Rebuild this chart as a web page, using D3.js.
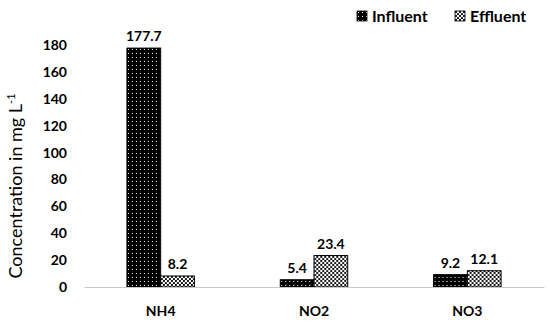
<!DOCTYPE html>
<html lang="en">
<head>
<meta charset="UTF-8">
<title>Concentration chart</title>
<style>
  body { margin: 0; background: #fff; }
  svg text { font-family: Lato, "Open Sans", sans-serif; fill: #000; }
</style>
</head>
<body>
<svg id="chart" width="550" height="324"></svg>
<script src="https://d3js.org/d3.v7.min.js"></script>
<script>
const categories = ["NH4", "NO2", "NO3"];
const seriesNames = ["Influent", "Effluent"];
const influent = [177.7, 5.4, 9.2];
const effluent = [8.2, 23.4, 12.1];
const yTicks = [0, 20, 40, 60, 80, 100, 120, 140, 160, 180];

const width = 550, height = 324;
const margin = { top: 45, right: 6, bottom: 36, left: 84 };

const svg = d3.select("#chart");

// patterns for the two series
const defs = svg.append("defs");
const pIn = defs.append("pattern").attr("id", "pat-in")
    .attr("patternUnits", "userSpaceOnUse").attr("width", 4).attr("height", 4);
pIn.append("rect").attr("width", 4).attr("height", 4).attr("fill", "#000");
pIn.append("rect").attr("x", 1).attr("y", 1).attr("width", 1).attr("height", 1).attr("fill", "#fff");

const pEf = defs.append("pattern").attr("id", "pat-ef")
    .attr("patternUnits", "userSpaceOnUse").attr("width", 4).attr("height", 4);
pEf.append("rect").attr("width", 4).attr("height", 4).attr("fill", "#fff");
pEf.append("circle").attr("cx", 1).attr("cy", 1).attr("r", 1.1).attr("fill", "#000");
pEf.append("circle").attr("cx", 3).attr("cy", 3).attr("r", 1.1).attr("fill", "#000");

const fills = ["url(#pat-in)", "url(#pat-ef)"];

const data = categories.map((c, i) => ({ cat: c, values: [influent[i], effluent[i]] }));

const x0 = d3.scaleBand().domain(categories)
    .range([margin.left, width - margin.right]).paddingInner(0.56).paddingOuter(0.28);
const x1 = d3.scaleBand().domain(seriesNames).range([0, x0.bandwidth()]);
const y = d3.scaleLinear().domain([0, 180]).range([height - margin.bottom - 1, margin.top]);

// y axis labels (no line)
const yAxis = svg.append("g")
    .attr("transform", `translate(${margin.left - 17},0)`)
    .call(d3.axisLeft(y).tickValues(yTicks).tickSize(0).tickPadding(0));
yAxis.select(".domain").remove();
yAxis.selectAll("text").style("font-size", "14px").style("font-weight", "bold")
    .style("font-family", "Lato, sans-serif");

// bars
const groups = svg.selectAll(".grp").data(data).enter().append("g")
    .attr("transform", d => `translate(${x0(d.cat)},0)`);

groups.selectAll("rect").data(d => d.values.map((v, k) => ({ k, v })))
    .enter().append("rect")
    .attr("x", d => x1(seriesNames[d.k]))
    .attr("y", d => y(d.v))
    .attr("width", x1.bandwidth())
    .attr("height", d => y(0) - y(d.v))
    .attr("fill", d => fills[d.k])
    .attr("stroke", "#000").attr("stroke-width", 1);

groups.selectAll(".lbl").data(d => d.values.map((v, k) => ({ k, v })))
    .enter().append("text")
    .attr("x", d => x1(seriesNames[d.k]) + x1.bandwidth() / 2)
    .attr("y", d => y(d.v) - 7)
    .attr("text-anchor", "middle")
    .style("font-size", "14px").style("font-weight", "bold")
    .text(d => d.v.toFixed(1));

// x baseline and category labels
const xAxis = svg.append("g")
    .attr("transform", `translate(0,${y(0)})`)
    .call(d3.axisBottom(x0).tickSize(0).tickPadding(19));
xAxis.select(".domain").attr("stroke", "#c8c8c8").attr("stroke-width", 1.2);
xAxis.selectAll("text").style("font-size", "14px").style("font-weight", "bold")
    .style("font-family", "Lato, sans-serif");

// y title
svg.append("text")
    .attr("transform", `translate(22,186) rotate(-90)`)
    .attr("text-anchor", "middle")
    .style("font-size", "18px")
    .html('Concentration in mg L<tspan dy="-7" font-size="11px">-1</tspan>');

// legend
const legendX = [357, 455];
const legend = svg.selectAll(".leg").data(seriesNames).enter().append("g")
    .attr("transform", (d, i) => `translate(${legendX[i]},11)`);
legend.append("rect").attr("width", 10).attr("height", 10)
    .attr("fill", (d, i) => fills[i]).attr("stroke", "#000").attr("stroke-width", 0.8);
legend.append("text").attr("x", 15).attr("y", 10.5)
    .style("font-size", "16px").style("font-weight", "bold")
    .text(d => d);
</script>
</body>
</html>
